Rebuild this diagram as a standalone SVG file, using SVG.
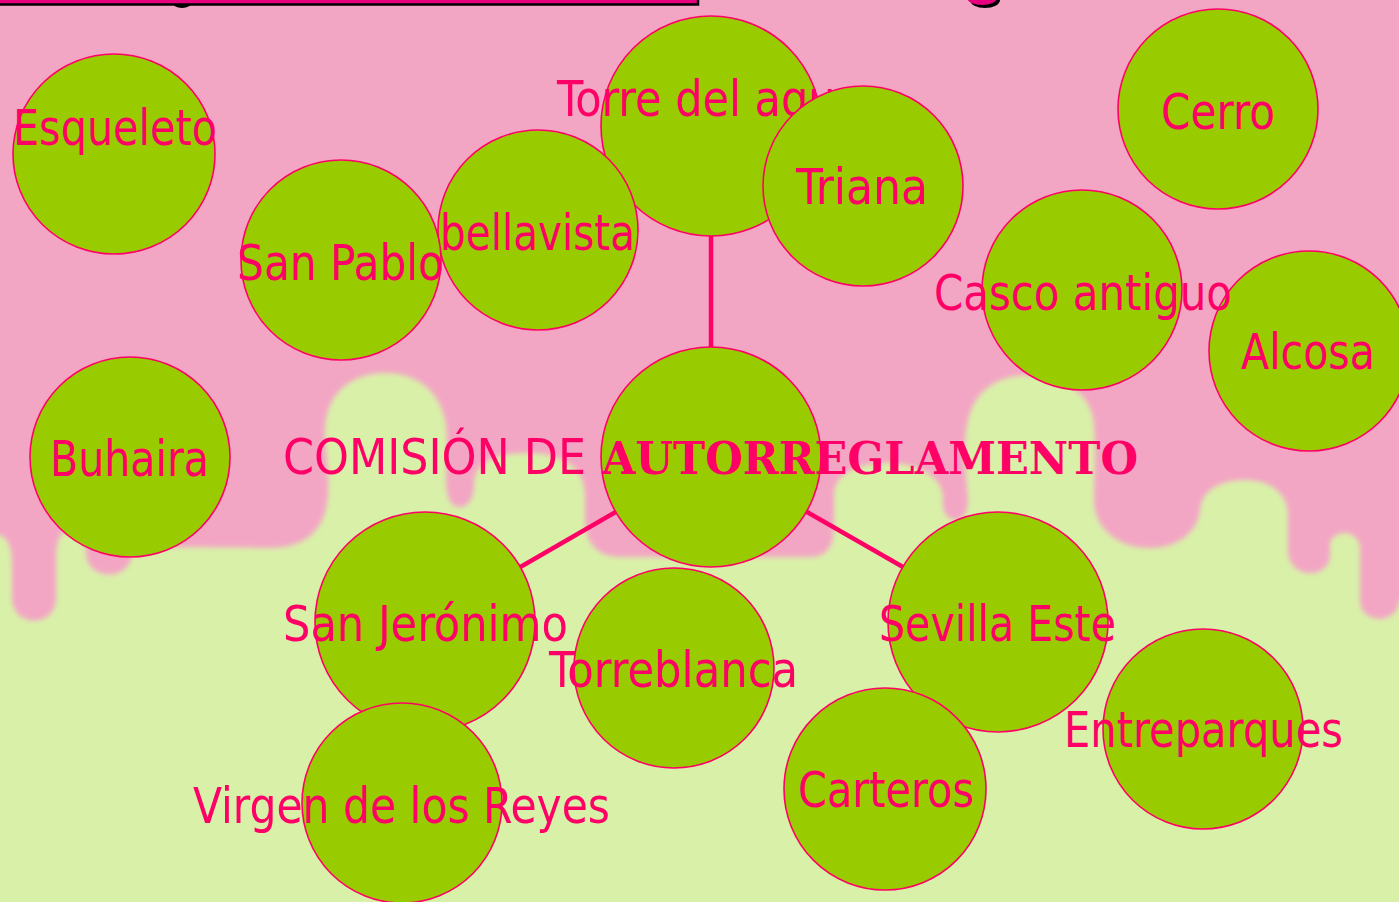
<svg xmlns="http://www.w3.org/2000/svg" width="1399" height="902" viewBox="0 0 1399 902">
<defs>
<style>
.node ellipse{fill:#99CC00;stroke:#FF0066;stroke-width:1.6}
.lbl{font-family:"DejaVu Sans Condensed","DejaVu Sans",sans-serif;font-stretch:condensed;font-size:49px;fill:#FF0066}
.bold{font-family:"DejaVu Serif","Liberation Serif",serif;font-weight:bold;font-size:45px;fill:#FF0066}
.conn line{stroke:#FF0066;stroke-width:4.5}
</style>
<filter id="soft" x="-5%" y="-5%" width="110%" height="110%"><feGaussianBlur stdDeviation="2.5"/></filter>
</defs>
<g id="background">
<rect x="0" y="0" width="1399" height="902" fill="#D9F0A9"/>
<path filter="url(#soft)" fill="#F3A6C4" d="M-20,-20 V535 H0 C8,538 12,548 12,565 V598 C12,628 56,628 56,598 V560 C56,538 62,530 70,530 C80,530 86,540 86,552 C86,582 132,582 132,552 C132,545 200,548 270,548 C305,548 326,530 328,495 C330,460 322,440 326,420 C330,392 352,373 386,373 C420,373 442,395 446,425 C448,445 446,465 446,480 C446,500 452,507 460,507 C470,507 474,495 474,485 C474,462 495,453 528,453 C565,453 585,470 585,495 V520 C585,545 600,557 620,557 L810,557 C828,557 834,545 834,525 V495 C834,472 860,463 888,463 C920,463 943,478 943,498 V505 C943,515 950,520 956,520 C963,520 968,512 968,500 C966,470 962,445 968,420 C975,390 998,375 1030,375 C1065,375 1092,395 1094,425 C1096,455 1094,480 1094,500 C1094,530 1120,548 1150,548 C1180,548 1198,530 1200,510 C1202,490 1220,480 1245,480 C1272,480 1288,495 1288,515 V550 C1288,580 1330,580 1330,555 V545 C1330,537 1338,533 1345,533 C1353,533 1360,540 1360,548 V600 C1360,625 1399,625 1399,600 H1420 V-20 Z"/>
</g>
<g id="title-remnants">
<ellipse cx="182" cy="2" rx="10" ry="6" fill="#000"/>
<ellipse cx="985" cy="0" rx="15" ry="8" fill="#000"/>
<ellipse cx="982" cy="-2" rx="15" ry="7" fill="#E6007E"/>
<rect x="-5" y="-10" width="703" height="14.5" fill="#E6007E" stroke="#000" stroke-width="2.5"/>
</g>
<g id="connectors" class="conn">
<line x1="711" y1="126" x2="711" y2="457"/>
<line x1="711" y1="457" x2="425" y2="622"/>
<line x1="711" y1="457" x2="999" y2="622"/>
</g>
<g id="node-esqueleto" class="node"><ellipse cx="114" cy="154" rx="101" ry="100"/><text class="lbl" x="13" y="145" textLength="204" lengthAdjust="spacingAndGlyphs">Esqueleto</text></g>
<g id="node-torre" class="node"><ellipse cx="711" cy="126" rx="110" ry="110"/><text class="lbl" x="557" y="116" textLength="305" lengthAdjust="spacingAndGlyphs">Torre del agua</text></g>
<g id="node-bellavista" class="node"><ellipse cx="538" cy="230" rx="100" ry="100"/><text class="lbl" x="440" y="250" textLength="195" lengthAdjust="spacingAndGlyphs">bellavista</text></g>
<g id="node-sanpablo" class="node"><ellipse cx="341" cy="260" rx="100" ry="100"/><text class="lbl" x="237" y="280" textLength="207" lengthAdjust="spacingAndGlyphs">San Pablo</text></g>
<g id="node-triana" class="node"><ellipse cx="863" cy="186" rx="100" ry="100"/><text class="lbl" x="796" y="204" textLength="132" lengthAdjust="spacingAndGlyphs">Triana</text></g>
<g id="node-cerro" class="node"><ellipse cx="1218" cy="109" rx="100" ry="100"/><text class="lbl" x="1161" y="129" textLength="114" lengthAdjust="spacingAndGlyphs">Cerro</text></g>
<g id="node-alcosa" class="node"><ellipse cx="1309" cy="351" rx="100" ry="100"/><text class="lbl" x="1241" y="369" textLength="134" lengthAdjust="spacingAndGlyphs">Alcosa</text></g>
<g id="node-casco" class="node"><ellipse cx="1082" cy="290" rx="100" ry="100"/><text class="lbl" x="934" y="310" textLength="298" lengthAdjust="spacingAndGlyphs">Casco antiguo</text></g>
<g id="node-buhaira" class="node"><ellipse cx="130" cy="457" rx="100" ry="100"/><text class="lbl" x="50" y="476" textLength="159" lengthAdjust="spacingAndGlyphs">Buhaira</text></g>
<g id="node-comision" class="node"><ellipse cx="711" cy="457" rx="110" ry="110"/><text y="474"><tspan class="lbl" x="283" textLength="303" lengthAdjust="spacingAndGlyphs">COMISIÓN DE</tspan> <tspan class="bold" x="602" textLength="536" lengthAdjust="spacingAndGlyphs">AUTORREGLAMENTO</tspan></text></g>
<g id="node-sanjeronimo" class="node"><ellipse cx="425" cy="622" rx="110" ry="110"/><text class="lbl" x="283" y="641" textLength="285" lengthAdjust="spacingAndGlyphs">San Jerónimo</text></g>
<g id="node-torreblanca" class="node"><ellipse cx="674" cy="668" rx="100" ry="100"/><text class="lbl" x="549" y="687" textLength="249" lengthAdjust="spacingAndGlyphs">Torreblanca</text></g>
<g id="node-sevillaeste" class="node"><ellipse cx="998" cy="622" rx="110" ry="110"/><text class="lbl" x="879" y="641" textLength="237" lengthAdjust="spacingAndGlyphs">Sevilla Este</text></g>
<g id="node-virgen" class="node"><ellipse cx="402" cy="803" rx="100" ry="100"/><text class="lbl" x="193" y="823" textLength="417" lengthAdjust="spacingAndGlyphs">Virgen de los Reyes</text></g>
<g id="node-carteros" class="node"><ellipse cx="885" cy="789" rx="101" ry="101"/><text class="lbl" x="798" y="807" textLength="176" lengthAdjust="spacingAndGlyphs">Carteros</text></g>
<g id="node-entreparques" class="node"><ellipse cx="1203" cy="729" rx="100" ry="100"/><text class="lbl" x="1064" y="747" textLength="279" lengthAdjust="spacingAndGlyphs">Entreparques</text></g>
</svg>
